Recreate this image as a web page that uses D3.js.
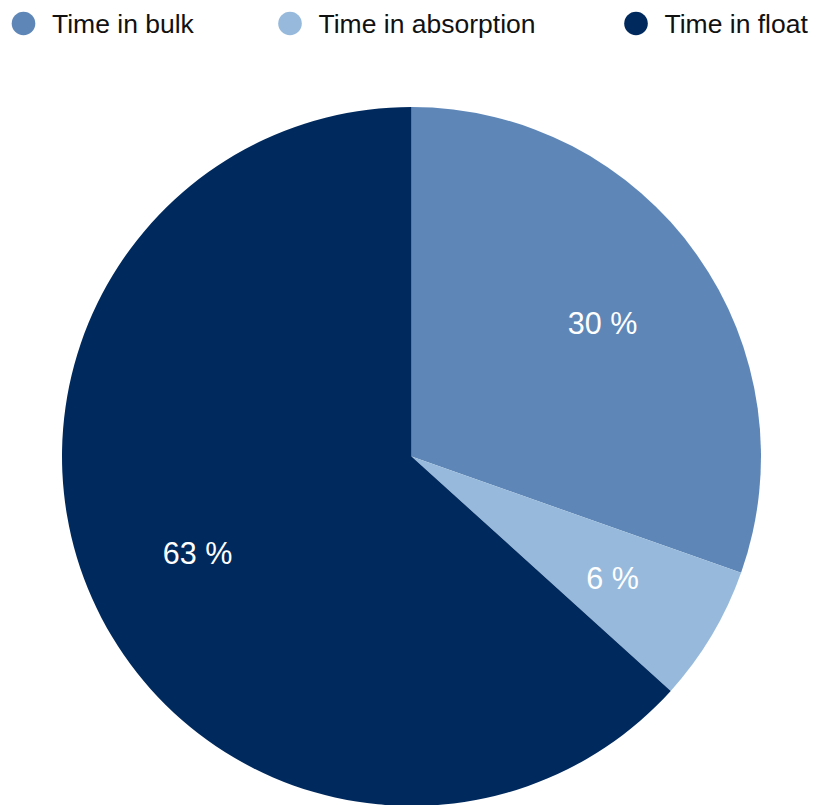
<!DOCTYPE html>
<html>
<head>
<meta charset="utf-8">
<script src="https://cdn.jsdelivr.net/npm/d3@7"></script>
<style>
  html, body { margin: 0; padding: 0; background: #fff; }
  svg { display: block; }
  text { font-family: "Liberation Sans", Arial, Helvetica, sans-serif; }
</style>
</head>
<body>
<svg id="chart" width="816" height="805"></svg>
<script>
const categories = ["Time in bulk", "Time in absorption", "Time in float"];
const values = [30.4, 6.3, 63.3];
const colors = ["#5e87b8", "#97badc", "#002a5e"];

const W = 816, H = 805;
const cx = 411.5, cy = 456.5, R = 349.5, labelR = 234;

const svg = d3.select("#chart");
const data = categories.map((c, i) => ({ name: c, value: values[i], color: colors[i] }));

const pie = d3.pie().value(d => d.value).sort(null);
const arcs = pie(data);
const arc = d3.arc().innerRadius(0).outerRadius(R);
const labelArc = d3.arc().innerRadius(labelR).outerRadius(labelR);

const g = svg.append("g").attr("transform", `translate(${cx},${cy})`);
g.selectAll("path").data(arcs).join("path")
  .attr("d", arc)
  .attr("fill", d => d.data.color);

g.selectAll("text.lbl").data(arcs).join("text")
  .attr("class", "lbl")
  .attr("transform", d => `translate(${labelArc.centroid(d)})`)
  .attr("text-anchor", "middle")
  .attr("dy", "0.41em")
  .attr("fill", "#fff")
  .attr("font-size", 30.5)
  .text(d => Math.round(d.data.value) + " %");

// Legend
const legendX = [23.5, 290, 636];
const leg = svg.append("g");
const items = leg.selectAll("g").data(data).join("g")
  .attr("transform", (d, i) => `translate(${legendX[i]},23.5)`);
items.append("circle").attr("r", 11.8).attr("fill", d => d.color);
items.append("text")
  .attr("x", 28.5)
  .attr("dy", "0.36em")
  .attr("font-size", 26.5)
  .attr("fill", "#111")
  .text(d => d.name);
</script>
</body>
</html>
